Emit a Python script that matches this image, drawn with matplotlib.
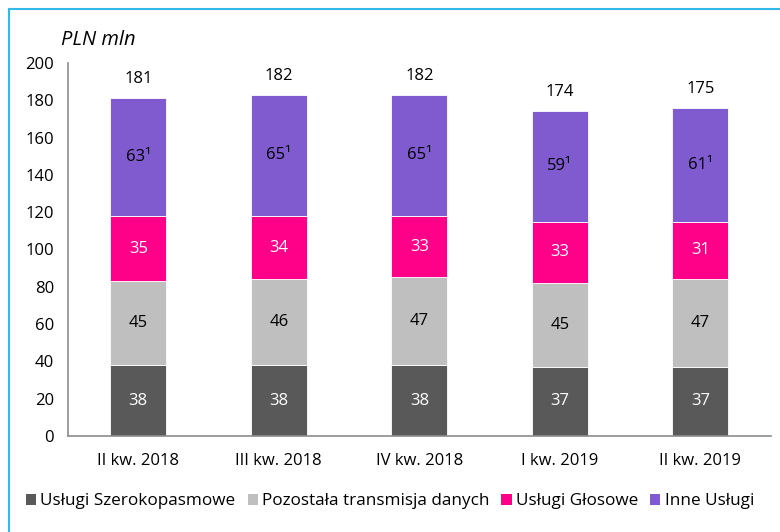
import numpy as np
import matplotlib.pyplot as plt
from matplotlib.patches import Patch
from matplotlib.lines import Line2D

plt.rcParams['font.family'] = ['Open Sans', 'DejaVu Sans']

# === DATA ===
quarters = ['II kw. 2018', 'III kw. 2018', 'IV kw. 2018', 'I kw. 2019', 'II kw. 2019']
series_names = ['Usługi Szerokopasmowe', 'Pozostała transmisja danych', 'Usługi Głosowe', 'Inne Usługi']
broadband = [38, 38, 38, 37, 37]
other_data = [45, 46, 47, 45, 47]
voice = [35, 34, 33, 33, 31]
other_services = [63, 65, 65, 59, 61]
totals = [181, 182, 182, 174, 175]

colors = ['#595959', '#BFBFBF', '#FF0088', '#7F5BCF']
label_colors = ['white', 'black', 'white', 'black']

# === PLOTTING ===
fig = plt.figure(figsize=(7.8, 5.32), dpi=100)
ax = fig.add_axes([0.0872, 0.1805, 0.9008, 0.7011])

x = np.arange(len(quarters))
bottom = np.zeros(len(quarters))
for vals, col, lc in zip([broadband, other_data, voice, other_services], colors, label_colors):
    vals = np.array(vals)
    ax.bar(x, vals, 0.4, bottom=bottom, color=col, edgecolor='white', linewidth=0.6)
    sup = '¹' if col == colors[3] else ''
    for xi, b, v in zip(x, bottom, vals):
        ax.text(xi, b + v / 2, f'{v}{sup}', ha='center', va='center', color=lc, fontsize=12)
    bottom += vals

for xi, b, t in zip(x, bottom, totals):
    ax.text(xi, b + 6, str(t), ha='center', va='bottom', color='black', fontsize=12)

ax.set_xlim(-0.5, len(quarters) - 0.5)
ax.set_ylim(0, 200)
ax.set_yticks(np.arange(0, 201, 20))
ax.set_xticks(x)
ax.set_xticklabels(quarters)
ax.tick_params(axis='both', length=0, labelsize=12)
ax.tick_params(axis='y', pad=10)
ax.tick_params(axis='x', pad=12)
for s in ['top', 'right']:
    ax.spines[s].set_visible(False)
for s in ['left', 'bottom']:
    ax.spines[s].set_color('#8C8C8C')
    ax.spines[s].set_linewidth(1.2)

fig.text(0.078, 0.925, 'PLN mln', fontsize=14.5, style='italic', ha='left', va='center')

handles = [Patch(facecolor=c, edgecolor='none') for c in colors]
fig.legend(handles, series_names, loc='center', bbox_to_anchor=(0.5, 0.058), ncol=4,
           frameon=False, fontsize=12.3, handlelength=0.6, handleheight=0.6,
           handletextpad=0.25, columnspacing=0.7)

# light blue frame on the top and left edges
fig.add_artist(Line2D([9 / 780, 1], [1 - 9 / 532, 1 - 9 / 532], color='#33B8E8', linewidth=1.5,
                      transform=fig.transFigure))
fig.add_artist(Line2D([9 / 780, 9 / 780], [0, 1 - 9 / 532], color='#33B8E8', linewidth=1.5,
                      transform=fig.transFigure))

fig.savefig('out.png', dpi=100)
